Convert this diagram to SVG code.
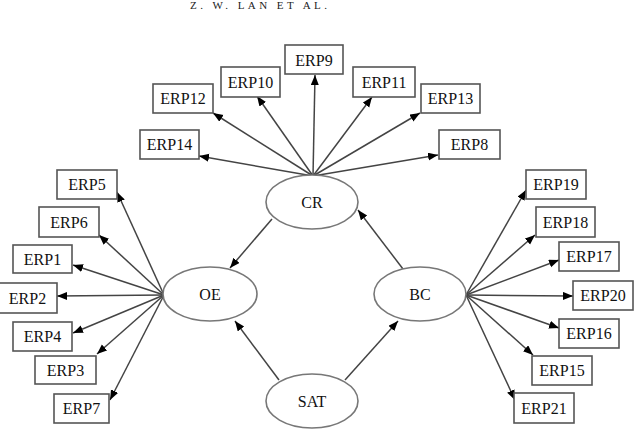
<svg xmlns="http://www.w3.org/2000/svg" width="638" height="434" viewBox="0 0 638 434">
<defs>
<marker id="ah" markerUnits="userSpaceOnUse" markerWidth="11" markerHeight="9" refX="10" refY="4" orient="auto">
<path d="M0,0 L10,4 L0,8 z" fill="#000"/>
</marker>
<style>
.box{fill:#fff;stroke:#555;stroke-width:1.6}
.ell{fill:#fff;stroke:#777;stroke-width:1.6}
.t{font-family:"Liberation Serif","Times New Roman",serif;font-size:16px;fill:#111;text-anchor:middle}
.c line{stroke:#444;stroke-width:1.5;marker-end:url(#ah)}
.hdr{font-family:"Liberation Serif","Times New Roman",serif;font-size:11px;fill:#222}
</style>
</defs>
<rect width="638" height="434" fill="#fff"/>
<text class="hdr" x="190" y="9" textLength="137" lengthAdjust="spacing">Z. W. LAN   ET   AL.</text>

<g class="c" id="connectors">
<line x1="313" y1="176" x2="315" y2="75"/>
<line x1="313" y1="176" x2="257" y2="96"/>
<line x1="313" y1="176" x2="372" y2="97"/>
<line x1="313" y1="176" x2="213" y2="113"/>
<line x1="313" y1="176" x2="420" y2="113"/>
<line x1="313" y1="176" x2="199" y2="156"/>
<line x1="313" y1="176" x2="438" y2="155"/>
<line x1="164" y1="295" x2="117" y2="192"/>
<line x1="164" y1="295" x2="99" y2="235"/>
<line x1="164" y1="295" x2="73" y2="265"/>
<line x1="164" y1="295" x2="57" y2="296"/>
<line x1="164" y1="295" x2="73" y2="333"/>
<line x1="164" y1="295" x2="97" y2="354"/>
<line x1="164" y1="295" x2="110" y2="400"/>
<line x1="466" y1="295" x2="526" y2="190"/>
<line x1="466" y1="295" x2="535" y2="235"/>
<line x1="466" y1="295" x2="559" y2="260"/>
<line x1="466" y1="295" x2="573" y2="296"/>
<line x1="466" y1="295" x2="559" y2="328"/>
<line x1="466" y1="295" x2="533" y2="355"/>
<line x1="466" y1="295" x2="515" y2="400"/>
<line x1="272" y1="219" x2="230" y2="268"/>
<line x1="403" y1="269" x2="358" y2="210"/>
<line x1="279" y1="380" x2="235" y2="321"/>
<line x1="345" y1="380" x2="398" y2="321"/>
</g>

<g id="CR"><ellipse class="ell" cx="312" cy="202" rx="46" ry="27"/><text class="t" x="312" y="208">CR</text></g>
<g id="OE"><ellipse class="ell" cx="210" cy="294" rx="47" ry="27"/><text class="t" x="210" y="300">OE</text></g>
<g id="BC"><ellipse class="ell" cx="420" cy="294" rx="46" ry="27"/><text class="t" x="420" y="300">BC</text></g>
<g id="SAT"><ellipse class="ell" cx="312" cy="401" rx="46" ry="27"/><text class="t" x="312" y="407">SAT</text></g>

<g id="ERP9"><rect class="box" x="285" y="45" width="58" height="29"/><text class="t" x="314" y="66">ERP9</text></g>
<g id="ERP10"><rect class="box" x="221" y="67" width="59" height="30"/><text class="t" x="250.5" y="88">ERP10</text></g>
<g id="ERP11"><rect class="box" x="353" y="67" width="62" height="30"/><text class="t" x="384" y="88">ERP11</text></g>
<g id="ERP12"><rect class="box" x="153" y="84" width="60" height="29"/><text class="t" x="183" y="104">ERP12</text></g>
<g id="ERP13"><rect class="box" x="421" y="84" width="59" height="29"/><text class="t" x="450.5" y="104">ERP13</text></g>
<g id="ERP14"><rect class="box" x="140" y="130" width="59" height="29"/><text class="t" x="169.5" y="150">ERP14</text></g>
<g id="ERP8"><rect class="box" x="439" y="130" width="61" height="29"/><text class="t" x="469.5" y="150">ERP8</text></g>

<g id="ERP5"><rect class="box" x="57" y="170" width="60" height="29"/><text class="t" x="87" y="190">ERP5</text></g>
<g id="ERP6"><rect class="box" x="39" y="207" width="60" height="30"/><text class="t" x="69" y="228">ERP6</text></g>
<g id="ERP1"><rect class="box" x="13" y="245" width="59" height="28"/><text class="t" x="42.5" y="265">ERP1</text></g>
<g id="ERP2"><rect class="box" x="-2" y="283" width="59" height="30"/><text class="t" x="27.5" y="304">ERP2</text></g>
<g id="ERP4"><rect class="box" x="13" y="322" width="59" height="29"/><text class="t" x="42.5" y="342">ERP4</text></g>
<g id="ERP3"><rect class="box" x="35" y="356" width="61" height="28"/><text class="t" x="65.5" y="376">ERP3</text></g>
<g id="ERP7"><rect class="box" x="54" y="394" width="55" height="29"/><text class="t" x="81.5" y="414">ERP7</text></g>

<g id="ERP19"><rect class="box" x="526" y="170" width="60" height="29"/><text class="t" x="556" y="190">ERP19</text></g>
<g id="ERP18"><rect class="box" x="536" y="207" width="59" height="30"/><text class="t" x="565.5" y="228">ERP18</text></g>
<g id="ERP17"><rect class="box" x="559" y="242" width="60" height="29"/><text class="t" x="589" y="262">ERP17</text></g>
<g id="ERP20"><rect class="box" x="573" y="281" width="60" height="29"/><text class="t" x="603" y="301">ERP20</text></g>
<g id="ERP16"><rect class="box" x="559" y="319" width="60" height="29"/><text class="t" x="589" y="339">ERP16</text></g>
<g id="ERP15"><rect class="box" x="532" y="356" width="60" height="29"/><text class="t" x="562" y="376">ERP15</text></g>
<g id="ERP21"><rect class="box" x="514" y="393" width="60" height="30"/><text class="t" x="544" y="414">ERP21</text></g>
</svg>
